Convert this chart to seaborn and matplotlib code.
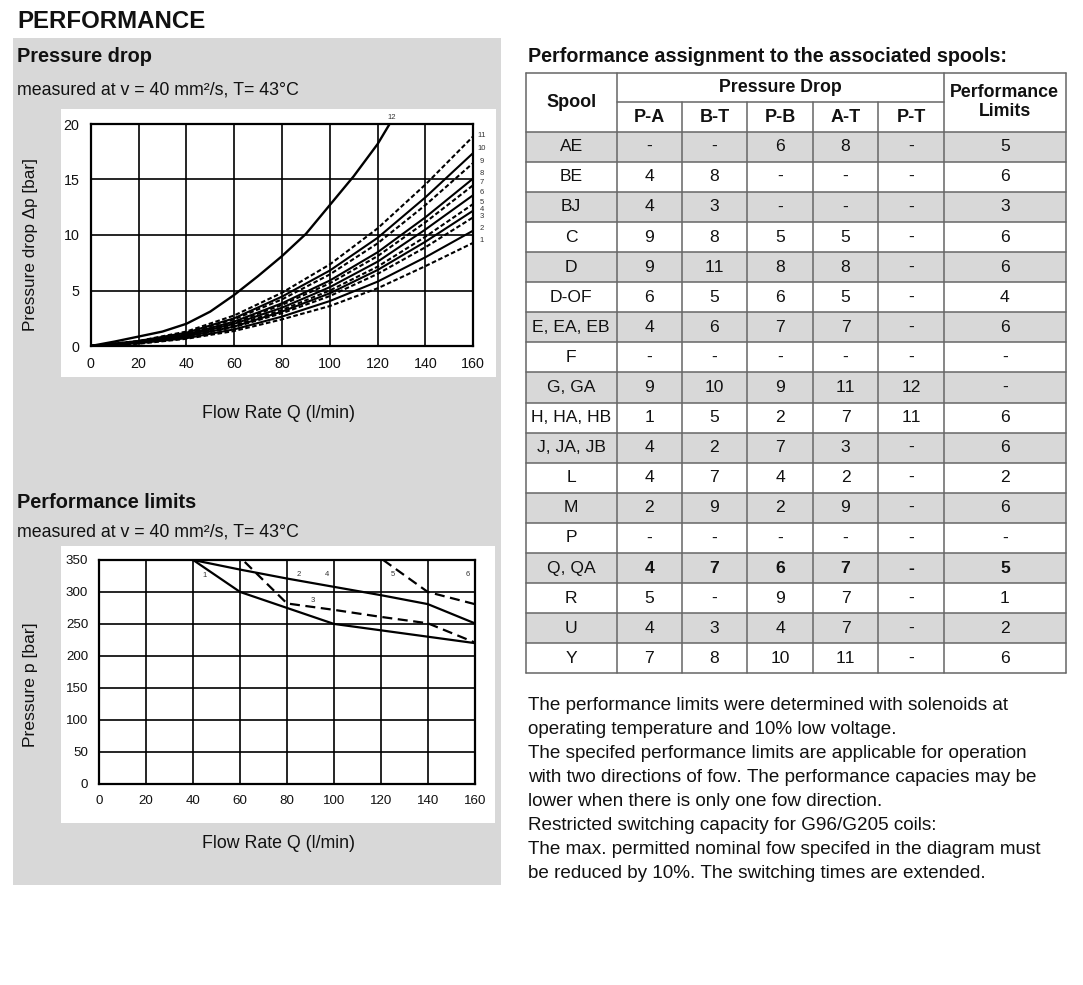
import matplotlib
matplotlib.use("Agg")
import matplotlib.pyplot as plt
from matplotlib.patches import Rectangle
import seaborn as sns

# pressure drop curves, dp [bar] over flow Q [l/min]
flow_q = [0, 20, 40, 60, 80, 100, 120, 140, 160]
dp_1 = [0, 0.2, 0.65, 1.35, 2.4, 3.6, 5.2, 7.2, 9.3]
dp_2 = [0, 0.25, 0.7, 1.5, 2.65, 4.05, 5.8, 8.0, 10.4]
dp_3 = [0, 0.3, 0.8, 1.7, 2.95, 4.5, 6.5, 8.9, 11.6]
dp_4 = [0, 0.3, 0.85, 1.75, 3.1, 4.75, 6.85, 9.4, 12.2]
dp_5 = [0, 0.3, 0.9, 1.85, 3.25, 5.0, 7.15, 9.85, 12.8]
dp_6 = [0, 0.35, 0.95, 2.0, 3.45, 5.3, 7.6, 10.5, 13.6]
dp_7 = [0, 0.35, 1.0, 2.1, 3.7, 5.65, 8.1, 11.15, 14.5]
dp_8 = [0, 0.4, 1.05, 2.2, 3.85, 5.9, 8.45, 11.6, 15.1]
dp_9 = [0, 0.4, 1.15, 2.4, 4.2, 6.45, 9.25, 12.7, 16.5]
dp_10 = [0, 0.45, 1.2, 2.5, 4.45, 6.8, 9.75, 13.4, 17.4]
dp_11 = [0, 0.45, 1.3, 2.75, 4.8, 7.35, 10.6, 14.55, 18.9]
dp_12_q = [0, 10, 20, 30, 40, 50, 60, 70, 80, 90, 100, 110, 120, 125]
dp_12 = [0, 0.4, 0.85, 1.3, 2.0, 3.1, 4.6, 6.3, 8.1, 10.1, 12.7, 15.3, 18.2, 20.0]
dp_dashed = [True, False, True, False, True, False, True, False, True, False, True, False]
dp_label_y = [9.5, 10.6, 11.7, 12.3, 12.9, 13.8, 14.7, 15.5, 16.6, 17.8, 19.0]

# performance limits, p [bar] over flow Q [l/min]
pl_1_q = [40, 60, 80, 100, 120, 140, 160]
pl_1 = [350, 300, 275, 250, 240, 230, 220]
pl_2_q = [40, 60, 80, 100, 120, 140, 160]
pl_2 = [350, 335, 321, 308, 295, 281, 251]
pl_3_q = [62, 80, 100, 120, 140, 160]
pl_3 = [347, 282, 272, 261, 251, 221]
pl_5_q = [121, 140, 160]
pl_5 = [350, 300, 281]
pl_labels = ["1", "2", "4", "3", "5", "6"]
pl_label_q = [45, 85, 97, 91, 125, 157]
pl_label_p = [325, 327, 327, 286, 327, 327]

# spool table
spools = ["AE", "BE", "BJ", "C", "D", "D-OF", "E, EA, EB", "F", "G, GA",
          "H, HA, HB", "J, JA, JB", "L", "M", "P", "Q, QA", "R", "U", "Y"]
col_pa = ["-", "4", "4", "9", "9", "6", "4", "-", "9", "1", "4", "4", "2", "-", "4", "5", "4", "7"]
col_bt = ["-", "8", "3", "8", "11", "5", "6", "-", "10", "5", "2", "7", "9", "-", "7", "-", "3", "8"]
col_pb = ["6", "-", "-", "5", "8", "6", "7", "-", "9", "2", "7", "4", "2", "-", "6", "9", "4", "10"]
col_at = ["8", "-", "-", "5", "8", "5", "7", "-", "11", "7", "3", "2", "9", "-", "7", "7", "7", "11"]
col_pt = ["-", "-", "-", "-", "-", "-", "-", "-", "12", "11", "-", "-", "-", "-", "-", "-", "-", "-"]
col_limits = ["5", "6", "3", "6", "6", "4", "6", "-", "-", "6", "6", "2", "6", "-", "5", "1", "2", "6"]
sub_headers = ["P-A", "B-T", "P-B", "A-T", "P-T"]

notes = [
    "The performance limits were determined with solenoids at",
    "operating temperature and 10% low voltage.",
    "The specifed performance limits are applicable for operation",
    "with two directions of fow. The performance capacies may be",
    "lower when there is only one fow direction.",
    "Restricted switching capacity for G96/G205 coils:",
    "The max. permitted nominal fow specifed in the diagram must",
    "be reduced by 10%. The switching times are extended.",
]

sns.set_theme(style="white")
plt.rcParams['font.family'] = ['Liberation Sans', 'DejaVu Sans']
plt.rcParams['text.kerning_factor'] = 6

W, H = 1083, 985
GRAY = "#d8d8d8"
TXT = "#111111"
fig = plt.figure(figsize=(W / 100, H / 100), dpi=100)

bg = fig.add_axes([0, 0, 1, 1], zorder=0)
bg.set_xlim(0, W)
bg.set_ylim(H, 0)
bg.axis("off")

# left gray panel with white chart boxes
bg.add_patch(Rectangle((13, 38), 488, 847, color=GRAY, lw=0))
bg.add_patch(Rectangle((61, 109), 435, 268, color="white", lw=0))
bg.add_patch(Rectangle((61, 546), 434, 277, color="white", lw=0))

bg.text(17, 22, "PERFORMANCE", fontsize=17.3, fontweight="bold", va="center", color=TXT)
bg.text(17, 57, "Pressure drop", fontsize=14.3, fontweight="bold", va="center", color=TXT)
bg.text(17, 90, "measured at v = 40 mm²/s, T= 43°C", fontsize=12.8, va="center", color=TXT)
bg.text(279, 413, "Flow Rate Q (l/min)", fontsize=12.8, ha="center", va="center", color=TXT)
bg.text(31, 245, "Pressure drop Δp [bar]", fontsize=12.3, rotation=90, ha="center", va="center", color=TXT)

bg.text(17, 503, "Performance limits", fontsize=14.3, fontweight="bold", va="center", color=TXT)
bg.text(17, 532, "measured at v = 40 mm²/s, T= 43°C", fontsize=12.8, va="center", color=TXT)
bg.text(279, 844, "Flow Rate Q (l/min)", fontsize=12.8, ha="center", va="center", color=TXT)
bg.text(31, 685, "Pressure p [bar]", fontsize=12.6, rotation=90, ha="center", va="center", color=TXT)


def style_chart(ax, xmax, ymax, ystep, fs):
    ax.set_facecolor("white")
    ax.set_xlim(0, xmax)
    ax.set_ylim(0, ymax)
    ax.set_xticks(range(0, xmax + 1, 20))
    ax.set_yticks(range(0, ymax + 1, ystep))
    ax.grid(True, color="black", lw=1.2)
    for s in ax.spines.values():
        s.set_color("black")
        s.set_linewidth(1.6)
        s.set_visible(True)
    ax.tick_params(length=0, labelsize=fs, colors=TXT, pad=8)
    ax.set_xlabel("")
    ax.set_ylabel("")


# pressure drop chart
ax1 = fig.add_axes([90.7 / W, 1 - 346 / H, 382.6 / W, 222 / H], zorder=1)
dp_lists = [dp_1, dp_2, dp_3, dp_4, dp_5, dp_6, dp_7, dp_8, dp_9, dp_10, dp_11]
for i, vals in enumerate(dp_lists):
    ls = (0, (2.2, 1.2)) if dp_dashed[i] else "-"
    sns.lineplot(x=flow_q, y=vals, ax=ax1, color="black", lw=1.5, linestyle=ls)
sns.lineplot(x=dp_12_q, y=dp_12, ax=ax1, color="black", lw=1.7)
style_chart(ax1, 160, 20, 5, 10.3)
for i, yl in enumerate(dp_label_y):
    ax1.text(163.5, yl, str(i + 1), fontsize=5.5, color="#333333", ha="center", va="center", clip_on=False)
ax1.text(126, 20.55, "12", fontsize=5.5, color="#333333", ha="center", va="center", clip_on=False)

# performance limits chart
ax2 = fig.add_axes([99.3 / W, 1 - 783.7 / H, 375.4 / W, 223.7 / H], zorder=1)
sns.lineplot(x=pl_1_q, y=pl_1, ax=ax2, color="black", lw=1.6)
sns.lineplot(x=pl_2_q, y=pl_2, ax=ax2, color="black", lw=1.6)
sns.lineplot(x=pl_3_q, y=pl_3, ax=ax2, color="black", lw=1.6, linestyle=(0, (4.5, 2.5)))
sns.lineplot(x=pl_5_q, y=pl_5, ax=ax2, color="black", lw=1.6, linestyle=(0, (4.5, 2.5)))
style_chart(ax2, 160, 350, 50, 9.6)
for lab, q, p in zip(pl_labels, pl_label_q, pl_label_p):
    ax2.text(q, p, lab, fontsize=5.5, color="#333333", ha="center", va="center")

# table
bg.text(528, 56, "Performance assignment to the associated spools:", fontsize=14.2,
        fontweight="bold", va="center", color=TXT)
col_x = [525.7, 616.7, 681.7, 747.3, 812.7, 878.3, 944, 1065.7]
top, head_mid, head_bot, row_h = 72.7, 102.3, 131.7, 30.09
n_rows = len(spools)
LINE = "#666666"
for r in range(n_rows):
    y0 = head_bot + r * row_h
    if r % 2 == 0:
        bg.add_patch(Rectangle((col_x[0], y0), col_x[-1] - col_x[0], row_h, color=GRAY, lw=0))
bottom = head_bot + n_rows * row_h
for r in range(n_rows + 1):
    y = head_bot + r * row_h
    bg.plot([col_x[0], col_x[-1]], [y, y], color=LINE, lw=1.1)
bg.plot([col_x[0], col_x[-1]], [top, top], color=LINE, lw=1.1)
bg.plot([col_x[1], col_x[6]], [head_mid, head_mid], color=LINE, lw=1.1)
for i, x in enumerate(col_x):
    y_start = head_mid if 1 < i < 6 else top
    bg.plot([x, x], [y_start, bottom], color=LINE, lw=1.1)

centers = [(col_x[i] + col_x[i + 1]) / 2 for i in range(len(col_x) - 1)]
bg.text(centers[0], head_bot - 29, "Spool", fontsize=13, fontweight="bold", ha="center", va="center", color=TXT)
bg.text((col_x[1] + col_x[6]) / 2, 88, "Pressure Drop", fontsize=12.8, fontweight="bold", ha="center",
        va="center", color=TXT)
for c, name in zip(centers[1:6], sub_headers):
    bg.text(c, 117, name, fontsize=13, fontweight="bold", ha="center", va="center", color=TXT)
bg.text(centers[6], 102, "Performance\nLimits", fontsize=12.8, fontweight="bold", ha="center",
        va="center", linespacing=1.15, color=TXT)

columns = [spools, col_pa, col_bt, col_pb, col_at, col_pt, col_limits]
for r in range(n_rows):
    yc = head_bot + (r + 0.5) * row_h
    for ci, col in enumerate(columns):
        bold = spools[r] == "Q, QA" and ci > 0
        bg.text(centers[ci], yc, col[r], fontsize=12.6, ha="center", va="center",
                fontweight="bold" if bold else "normal", color=TXT)

for i, line in enumerate(notes):
    bg.text(528, 706 + i * 24, line, fontsize=13.6, va="center", color=TXT)

fig.savefig("out.png", dpi=100)
